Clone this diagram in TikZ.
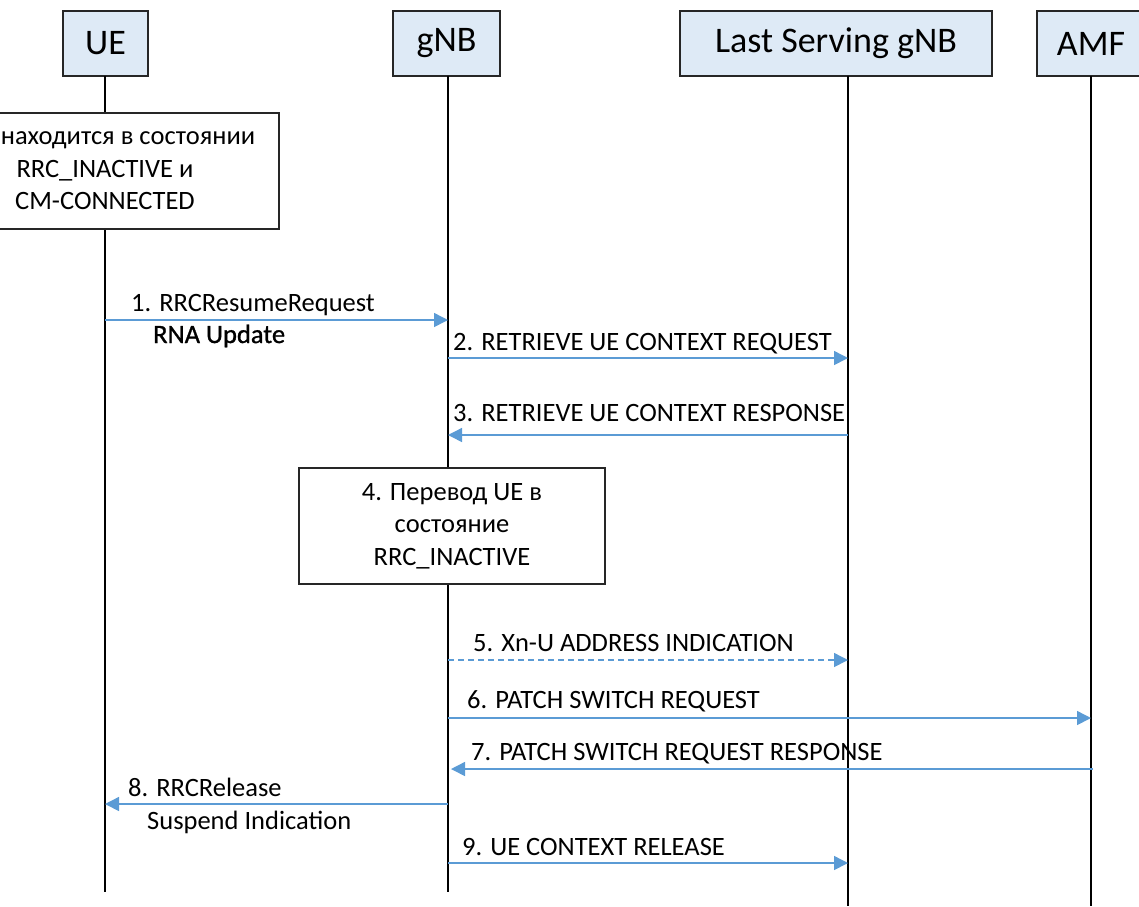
\documentclass[tikz,border=0pt]{standalone}
\usepackage{fontspec}
\setmainfont{Carlito}
\newfontfamily\heavyfont[FakeBold=1]{Carlito}
\usetikzlibrary{arrows.meta}
\definecolor{hdrfill}{RGB}{222,234,246}
\definecolor{msgblue}{RGB}{91,155,213}
\begin{document}
\begin{tikzpicture}[x=1pt,y=-1pt,
  actor/.style={draw=black!85,line width=1.5pt,fill=hdrfill,minimum height=65pt,
    inner sep=0pt,font=\fontsize{36}{40}\selectfont},
  life/.style={line width=1.8pt,black},
  note/.style={draw=black!85,line width=1.5pt,fill=white,align=center,inner sep=0pt,
    minimum height=116pt,font=\fontsize{26.5}{32.5}\selectfont},
  msg/.style={draw=msgblue,line width=1.5pt,-{Triangle[length=14pt,width=14pt]}},
  lbl/.style={anchor=base west,inner sep=0pt,font=\fontsize{26.5}{31}\selectfont}
]
\useasboundingbox (0,0) rectangle (1139,906);

% participants
\node[actor,minimum width=85pt]  (ue)  at (105.5,43.5) {UE};
\node[actor,minimum width=107pt] (gnb) at (446.5,43.5) {gNB};
\node[actor,minimum width=312pt] (lsg) at (836,43.5)   {Last Serving gNB};
\node[actor,minimum width=108pt] (amf) at (1091,43.5)  {AMF};

% lifelines
\coordinate (ueTop)  at (105,76);  \coordinate (ueBot)  at (105,892);
\coordinate (gnbTop) at (448,76);  \coordinate (gnbBot) at (448,892);
\coordinate (lsgTop) at (848,76);  \coordinate (lsgBot) at (848,906);
\coordinate (amfTop) at (1091,76); \coordinate (amfBot) at (1091,906);
\draw[life] (ueTop)  -- (ueBot);
\draw[life] (gnbTop) -- (gnbBot);
\draw[life] (lsgTop) -- (lsgBot);
\draw[life] (amfTop) -- (amfBot);

% state boxes
\node[note,minimum width=348pt] (state) at (105,171)
  {\hspace*{46pt}находится в состоянии\\RRC\_INACTIVE и\\CM-CONNECTED};
\node[note,minimum width=306pt] (trans) at (452,526)
  {4. Перевод UE в\\состояние\\RRC\_INACTIVE};

% message end points
\coordinate (m1a) at (105,320);  \coordinate (m1b) at (448,320);
\coordinate (m2a) at (448,358);  \coordinate (m2b) at (848,358);
\coordinate (m3a) at (848,435);  \coordinate (m3b) at (448,435);
\coordinate (m5a) at (448,660);  \coordinate (m5b) at (848,660);
\coordinate (m6a) at (448,718);  \coordinate (m6b) at (1091,718);
\coordinate (m7a) at (1093,769); \coordinate (m7b) at (451,769);
\coordinate (m8a) at (448,804);  \coordinate (m8b) at (105,804);
\coordinate (m9a) at (448,863);  \coordinate (m9b) at (848,863);

% messages
\draw[msg] (m1a) -- (m1b);
\draw[msg] (m2a) -- (m2b);
\draw[msg] (m3a) -- (m3b);
\draw[msg,dash pattern=on 6pt off 4pt] (m5a) -- (m5b);
\draw[msg] (m6a) -- (m6b);
\draw[msg] (m7a) -- (m7b);
\draw[msg] (m8a) -- (m8b);
\draw[msg] (m9a) -- (m9b);

% message labels
\node[lbl] (l1)  at (131,311) {1. RRCResumeRequest};
\node[lbl] (l1b) at (153,343) {\heavyfont RNA Update};
\node[lbl] (l2)  at (453,350) {2. RETRIEVE UE CONTEXT REQUEST};
\node[lbl] (l3)  at (453,421) {3. RETRIEVE UE CONTEXT RESPONSE};
\node[lbl] (l5)  at (473,651) {5. Xn-U ADDRESS INDICATION};
\node[lbl] (l6)  at (467,708) {6. PATCH SWITCH REQUEST};
\node[lbl] (l7)  at (471,760) {7. PATCH SWITCH REQUEST RESPONSE};
\node[lbl] (l8)  at (128,796) {8. RRCRelease};
\node[lbl] (l8b) at (147,829) {Suspend Indication};
\node[lbl] (l9)  at (462,855) {9. UE CONTEXT RELEASE};
\end{tikzpicture}
\end{document}
